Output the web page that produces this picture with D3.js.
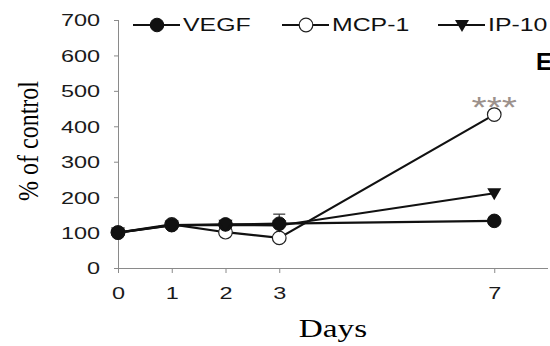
<!DOCTYPE html>
<html>
<head>
<meta charset="utf-8">
<script src="https://cdn.jsdelivr.net/npm/d3@7"></script>
<style>
  body { margin: 0; background: #fff; }
  svg { display: block; }
  .axis path, .axis line { stroke: #8a8a8a; }
</style>
</head>
<body>
<div id="chart"></div>
<script>
  var days = [0, 1, 2, 3, 7],
    xTicks = [0, 1, 2, 3, 7],
    yTicks = [0, 100, 200, 300, 400, 500, 600, 700],
    vegf = [100, 121, 123, 125, 133],
    vegfErr = [0, 0, 0, 27, 0],
    mcp1 = [100, 123, 101, 85, 433],
    ip10 = [100, 120, 122, 120, 211],
    seriesNames = ['VEGF', 'MCP-1', 'IP-10'];

  var width = 550, height = 346,
    sans = 'Arial, "Liberation Sans", sans-serif',
    serif = '"Times New Roman", "Liberation Serif", serif',
    stretch = 1.38;   // the source figure is squeezed wide

  var svg = d3.select('#chart')
    .append('svg')
    .attr('width', width)
    .attr('height', height);

  var x = d3.scaleLinear().domain([0, 8]).range([118, 548]);
  var y = d3.scaleLinear().domain([0, 700]).range([268, 20]);

  // axes
  var xAxis = svg.append('g')
    .classed('axis', true)
    .attr('transform', 'translate(0,' + y(0) + ')')
    .call(d3.axisBottom(x).tickValues(xTicks).tickSize(5).tickFormat(d3.format('d')))
    .call(function (g) { g.select('.domain').attr('d', 'M' + x(0) + ',0.5H' + x(8)); });

  xAxis.selectAll('.tick text')
    .attr('y', 0).attr('dy', '0.35em')
    .attr('transform', 'translate(0,25) scale(' + stretch + ',1)')
    .style('font-family', sans).style('font-size', '17px').style('fill', '#1a1a1a');

  var yAxis = svg.append('g')
    .classed('axis', true)
    .attr('transform', 'translate(' + x(0) + ',0)')
    .call(d3.axisLeft(y).tickValues(yTicks).tickSize(4))
    .call(function (g) { g.select('.domain').attr('d', 'M0.5,' + y(700) + 'V' + y(0)); });

  yAxis.selectAll('.tick text')
    .attr('x', 0).attr('dy', '0.35em')
    .attr('transform', 'translate(-18,0) scale(' + stretch + ',1)')
    .style('font-family', sans).style('font-size', '17px').style('fill', '#1a1a1a');

  // axis titles
  svg.append('text')
    .attr('transform', 'translate(38,141) rotate(-90) scale(1,1.25)')
    .attr('text-anchor', 'middle')
    .style('font-family', serif)
    .style('font-size', '24px')
    .text('% of control');

  svg.append('text')
    .attr('transform', 'translate(333,337) scale(1.28,1)')
    .attr('text-anchor', 'middle')
    .style('font-family', serif)
    .style('font-size', '26px')
    .text('Days');

  var line = d3.line()
    .x(function (d) { return x(d.day); })
    .y(function (d) { return y(d.val); });

  function toPoints(vals) {
    return days.map(function (d, i) { return { day: d, val: vals[i] }; });
  }

  var tri = d3.symbol().type(d3.symbolTriangle).size(85);

  function drawMarker(g, type, cx, cy) {
    if (type === 'filled') {
      g.append('circle').attr('cx', cx).attr('cy', cy).attr('r', 6.8)
        .style('fill', '#111').style('stroke', '#111');
    } else if (type === 'open') {
      g.append('circle').attr('cx', cx).attr('cy', cy).attr('r', 6.8)
        .style('fill', '#fff').style('stroke', '#222').style('stroke-width', 1.2);
    } else {
      g.append('path').attr('d', tri)
        .attr('transform', 'translate(' + cx + ',' + (cy - 1) + ') rotate(180)')
        .style('fill', '#111');
    }
  }

  // VEGF error bar
  var errG = svg.append('g');
  days.forEach(function (d, i) {
    if (!vegfErr[i]) return;
    errG.append('line')
      .attr('x1', x(d)).attr('x2', x(d))
      .attr('y1', y(vegf[i])).attr('y2', y(vegf[i] + vegfErr[i]))
      .style('stroke', '#333').style('stroke-width', 1.2);
    errG.append('line')
      .attr('x1', x(d) - 6).attr('x2', x(d) + 6)
      .attr('y1', y(vegf[i] + vegfErr[i])).attr('y2', y(vegf[i] + vegfErr[i]))
      .style('stroke', '#333').style('stroke-width', 1.2);
  });

  var series = [
    { name: 'MCP-1', vals: mcp1, marker: 'open' },
    { name: 'VEGF', vals: vegf, marker: 'filled' },
    { name: 'IP-10', vals: ip10, marker: 'tri' }
  ];

  series.forEach(function (s) {
    svg.append('path')
      .datum(toPoints(s.vals))
      .attr('d', line)
      .style('fill', 'none')
      .style('stroke', '#111')
      .style('stroke-width', 2.2);
  });

  series.forEach(function (s) {
    var g = svg.append('g');
    toPoints(s.vals).forEach(function (p) {
      drawMarker(g, s.marker, x(p.day), y(p.val));
    });
  });

  // significance stars
  svg.append('text')
    .attr('transform', 'translate(' + x(7) + ',' + (y(mcp1[4]) + 2) + ') scale(1.3,1)')
    .attr('text-anchor', 'middle')
    .style('font-family', sans)
    .style('font-size', '30px')
    .style('fill', '#9c918c')
    .text('***');

  // panel letter
  svg.append('text')
    .attr('x', 536)
    .attr('y', 70)
    .style('font-family', sans)
    .style('font-size', '24px')
    .style('font-weight', 'bold')
    .text('E');

  // legend
  var legendItems = [
    { name: seriesNames[0], marker: 'filled', x0: 133 },
    { name: seriesNames[1], marker: 'open', x0: 282 },
    { name: seriesNames[2], marker: 'tri', x0: 438 }
  ];

  legendItems.forEach(function (it) {
    var g = svg.append('g');
    g.append('line')
      .attr('x1', it.x0).attr('x2', it.x0 + 47)
      .attr('y1', 25).attr('y2', 25)
      .style('stroke', '#111').style('stroke-width', 2.2);
    drawMarker(g, it.marker, it.x0 + 24, 25);
    g.append('text')
      .attr('transform', 'translate(' + (it.x0 + 50) + ',25) scale(' + stretch + ',1)')
      .attr('dy', '0.36em')
      .style('font-family', sans)
      .style('font-size', '18px')
      .style('fill', '#111')
      .text(it.name);
  });
</script>
</body>
</html>
